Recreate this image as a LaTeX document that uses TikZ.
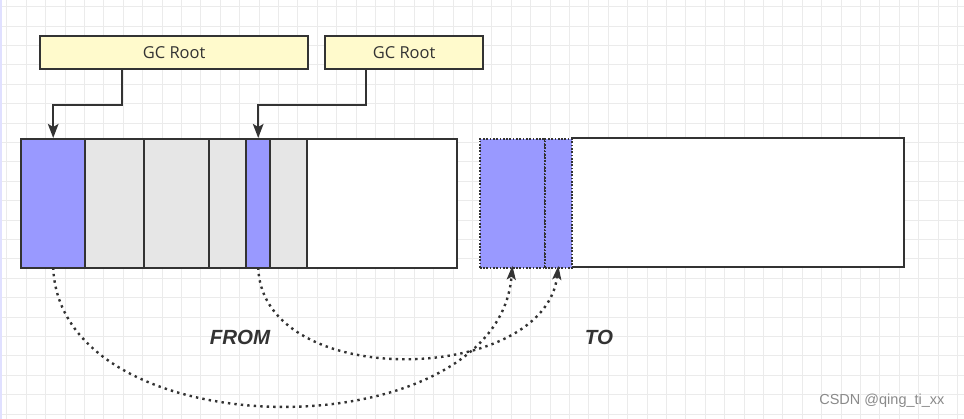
\documentclass[tikz,border=0pt]{standalone}
\usepackage{fontspec}
\usetikzlibrary{arrows.meta}
\newfontfamily\gcfont{Open Sans}
\newfontfamily\lblfont{Liberation Sans}
\definecolor{strokec}{HTML}{333333}
\definecolor{bluec}{HTML}{9999FF}
\definecolor{grayc}{HTML}{E6E6E6}
\definecolor{yellowc}{HTML}{FFFACC}
\definecolor{gridc}{HTML}{EBEBEB}
\definecolor{wmc}{HTML}{8A8A8A}
\tikzset{
  gridline/.style={draw=gridc, line width=0.9pt},
  rootbox/.style={draw=strokec, line width=2.3pt, fill=yellowc, minimum height=33pt, inner sep=0pt, anchor=north west,
    font=\gcfont\fontsize{16.5}{19}\selectfont, text=strokec},
  cell/.style={draw=strokec, line width=2.4pt, minimum height=129pt, inner sep=0pt, anchor=north west},
  dotcell/.style={draw=strokec, line width=1.7pt, dash pattern=on 1.7pt off 1.6pt, fill=bluec, minimum height=129pt, inner sep=0pt, anchor=north west},
  conn/.style={draw=strokec, line width=2.3pt, -{Stealth[length=14pt,width=10.5pt,inset=3pt]}},
  dotconn/.style={draw=strokec, line width=2.4pt, dash pattern=on 2.4pt off 4.1pt, -{Stealth[length=14pt,width=9pt,inset=3pt]}},
  biglabel/.style={font=\lblfont\bfseries\itshape\fontsize{20.5}{24}\selectfont, text=strokec},
  wm/.style={font=\lblfont\fontsize{14.5}{17}\selectfont, text=wmc}
}
\begin{document}
\begin{tikzpicture}[x=1pt,y=-1pt]
\useasboundingbox (0,0) rectangle (964,419);
\fill[white] (0,0) rectangle (964,419);
% grid
\foreach \i in {0,...,49} \draw[gridline] ({6.9+19.4*\i},0) -- ({6.9+19.4*\i},419);
\foreach \j in {0,...,21} \draw[gridline] (0,{6.7+19.4*\j}) -- (964,{6.7+19.4*\j});
\draw[draw=blue!12, line width=1.5pt] (1,0) -- (1,419);

% GC roots
\node[rootbox, minimum width=268pt] (gc1) at (39,35) {GC Root};
\node[rootbox, minimum width=158pt] (gc2) at (324,35) {GC Root};

% FROM space
\node[cell, fill=white, minimum width=436pt] (fromsp) at (20,138) {};
\node[cell, fill=bluec, minimum width=64pt] (f1) at (20,138) {};
\node[cell, fill=grayc, minimum width=59pt] (f2) at (84,138) {};
\node[cell, fill=grayc, minimum width=65pt] (f3) at (143,138) {};
\node[cell, fill=grayc, minimum width=37pt] (f4) at (208,138) {};
\node[cell, fill=bluec, minimum width=24pt] (f5) at (245,138) {};
\node[cell, fill=grayc, minimum width=37pt] (f6) at (269,138) {};

% TO space
\fill[white] (479,138) rectangle (904,267);
\draw[draw=strokec, line width=2.4pt] (571,138) -- (904,138) -- (904,267) -- (571,267);
\node[dotcell, minimum width=65pt] (t1) at (479,138) {};
\node[dotcell, minimum width=27pt] (t2) at (544,138) {};

% root references
\draw[conn] ([xshift=83pt]gc1.south west) -- ++(0,35) -| (f1.north);
\draw[conn] ([xshift=42pt]gc2.south west) -- ++(0,35) -| (f5.north);

% copies
\draw[dotconn] ([yshift=2pt]f1.south) .. controls (60,452) and (498,452) .. ([yshift=3pt]t1.south);
\draw[dotconn] ([yshift=2pt]f5.south) .. controls (262,392) and (545,385) .. ([yshift=3pt]t2.south);

% labels
\node[biglabel] (fromlbl) at (240,337) {FROM};
\node[biglabel] (tolbl) at (599,337) {TO};
\node[wm, anchor=east] (wmark) at (948,401) {CSDN @qing\_ti\_xx};
\end{tikzpicture}
\end{document}
